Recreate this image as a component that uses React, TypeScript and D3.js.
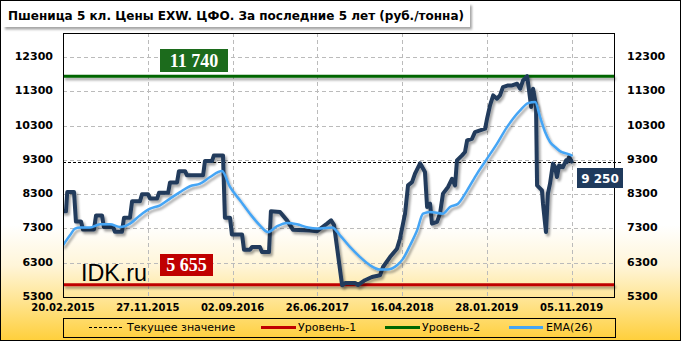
import React from "react";
import * as d3 from "d3";

const title = "Пшеница 5 кл. Цены EXW. ЦФО. За последние 5 лет (руб./тонна)";

const priceWeeks = [0, 1.4, 2.0, 5.2, 6.1, 8.5, 9.4, 14.6, 15.6, 18.4, 19.3, 23.6, 24.5, 27.8, 28.8, 31.6, 32.6, 36.3, 37.3, 40.1, 41.1, 44.4, 45.3, 49.6, 50.5, 53.8, 54.7, 57.6, 58.5, 66.1, 67.0, 70.3, 71.2, 75.5, 76.4, 78.8, 79.7, 84.5, 85.4, 88.2, 89.2, 92.9, 93.9, 97.2, 98.1, 102.4, 105.7, 108.5, 116.6, 119.9, 124.6, 126.5, 127.9, 131.7, 133.1, 137.8, 139.2, 142.5, 145.8, 149.6, 151.0, 154.3, 157.6, 159.0, 161.4, 162.8, 164.7, 166.1, 168.5, 170.8, 171.8, 173.2, 174.1, 176.5, 177.9, 179.3, 181.7, 183.6, 185.0, 185.9, 188.3, 189.7, 190.7, 193.0, 194.4, 196.8, 199.2, 200.1, 201.5, 203.0, 204.8, 206.2, 207.6, 210.0, 211.9, 214.3, 215.7, 217.1, 219.0, 219.9, 220.9, 221.8, 223.2, 223.7, 226.0, 226.5, 227.9, 228.8, 229.8, 231.2, 232.2, 233.1, 234.1, 235.9, 237.4, 237.8, 238.8, 240];
const priceValues = [7800, 7800, 8360, 8360, 7500, 7500, 7270, 7270, 7680, 7680, 7340, 7340, 7200, 7200, 7610, 7610, 8090, 8090, 8300, 8300, 8170, 8170, 8340, 8340, 8640, 8640, 8970, 8970, 8850, 8850, 9265, 9265, 9430, 9430, 7615, 7615, 7120, 7120, 6680, 6680, 6760, 6760, 6610, 6610, 7800, 7780, 7535, 7265, 7240, 7220, 7440, 7535, 7400, 5640, 5710, 5710, 5650, 5790, 5885, 5935, 6175, 6465, 6710, 7000, 7730, 8555, 8650, 8900, 9200, 8945, 7925, 8020, 7440, 7490, 7730, 8315, 8510, 8750, 8555, 9285, 9430, 9530, 9870, 9915, 10110, 10160, 10210, 10500, 10890, 11180, 11085, 11180, 11420, 11470, 11470, 11520, 11375, 11620, 11740, 11330, 10840, 11375, 10890, 8555, 8410, 8020, 7195, 8315, 8605, 9190, 9090, 8800, 9140, 9090, 9285, 9235, 9380, 9250];

const emaWeeks = [0, 3.3, 5.7, 8.0, 12.7, 17.5, 22.2, 26.9, 31.6, 36.3, 41.1, 45.8, 50.5, 55.2, 59.9, 64.7, 69.4, 75.0, 78.8, 83.5, 88.2, 92.9, 96.7, 100.9, 105.7, 110.4, 115.6, 119.9, 127.0, 130.7, 135.4, 140.2, 144.9, 149.6, 152.9, 157.6, 160.5, 163.8, 167.1, 169.9, 173.2, 179.3, 182.6, 186.4, 190.7, 195.4, 200.1, 204.8, 209.5, 215.7, 219.5, 222.8, 225.1, 227.5, 229.8, 232.2, 234.5, 237.8, 240];
const emaValues = [6810, 7100, 7295, 7325, 7325, 7420, 7420, 7340, 7440, 7680, 7875, 7975, 8170, 8360, 8530, 8605, 8800, 8975, 8510, 8120, 7730, 7390, 7195, 7360, 7460, 7420, 7325, 7295, 7325, 7100, 6760, 6465, 6225, 6100, 6100, 6225, 6420, 6810, 7245, 7730, 7780, 7730, 7925, 8020, 8410, 8900, 9335, 9775, 10255, 10745, 10955, 10985, 10550, 10110, 9820, 9675, 9555, 9480, 9430];

const yTicks = [5300, 6300, 7300, 8300, 9300, 10300, 11300, 12300];
const xTickWeeks = [0, 40, 80, 120, 160, 200, 240];
const xTickLabels = ["20.02.2015", "27.11.2015", "02.09.2016", "26.06.2017", "16.04.2018", "28.01.2019", "05.11.2019"];

const level1 = 5655;
const level2 = 11740;
const currentValue = 9250;
const level1Label = "5 655";
const level2Label = "11 740";
const currentLabel = "9 250";
const legendLabels = ["Текущее значение", "Уровень-1", "Уровень-2", "EMA(26)"];

const fmt = (v: number) => String(v);

export default function App() {
  const W = 681, H = 341;
  const L = 63, R = 614, T = 33, B = 297;
  const x = d3.scaleLinear().domain([0, 260]).range([L, R]);
  const y = d3.scaleLinear().domain([5300, 13000]).range([B, T]);

  const priceLine = d3
    .line<number>()
    .x((_, i) => x(priceWeeks[i]))
    .y((d) => y(d))
    .curve(d3.curveLinear);
  const emaLine = d3
    .line<number>()
    .x((_, i) => x(emaWeeks[i]))
    .y((d) => y(d))
    .curve(d3.curveMonotoneX);

  const font = "'DejaVu Sans', Verdana, sans-serif";
  const navy = "#213B5B";
  const blue = "#45A5F5";
  const red = "#C00000";
  const green = "#006600";

  const legendY = 327.5;

  return (
    <svg
      width={W}
      height={H}
      style={{ position: "absolute", left: 0, top: 0 }}
      xmlns="http://www.w3.org/2000/svg"
    >
      <defs>
        <linearGradient id="bg" x1="0" y1="0" x2="0" y2={H} gradientUnits="userSpaceOnUse">
          <stop offset="0" stopColor="#FFFFFF" />
          <stop offset="0.66" stopColor="#FFFFFF" />
          <stop offset="0.78" stopColor="#FFF5D8" />
          <stop offset="0.88" stopColor="#FFE593" />
          <stop offset="1" stopColor="#FFCF3A" />
        </linearGradient>
        <filter id="sh" filterUnits="userSpaceOnUse" x="0" y="0" width={W} height={H}>
          <feDropShadow dx="2" dy="2.5" stdDeviation="1.3" floodColor="#000" floodOpacity="0.35" />
        </filter>
        <clipPath id="plotclip">
          <rect x={L} y={T - 5} width={R - L} height={B - T + 5} />
        </clipPath>
      </defs>

      <rect x={0} y={0} width={W} height={H} fill="url(#bg)" />
      <rect x={0.5} y={0.5} width={W - 1} height={H - 1} fill="none" stroke="#000" />

      {/* title */}
      <rect x={3} y={3} width={467} height={24} fill="#fff" filter="url(#sh)" />
      <text
        x={8}
        y={20}
        fontFamily={font}
        fontWeight="bold"
        fontSize={12.5}
        textLength={456}
        lengthAdjust="spacingAndGlyphs"
        fill="#000"
      >
        {title}
      </text>

      {/* grid */}
      <g stroke="#BBBBBB" strokeWidth={1} strokeDasharray="4,3">
        {yTicks.slice(1).map((t) => (
          <line key={"h" + t} x1={L} x2={R} y1={Math.round(y(t)) + 0.5} y2={Math.round(y(t)) + 0.5} />
        ))}
        {xTickWeeks.slice(1).map((w) => (
          <line key={"v" + w} x1={Math.round(x(w)) + 0.5} x2={Math.round(x(w)) + 0.5} y1={T} y2={B} />
        ))}
      </g>

      {/* current value line */}
      <line
        x1={L}
        x2={623}
        y1={Math.round(y(currentValue)) + 0.5}
        y2={Math.round(y(currentValue)) + 0.5}
        stroke="#000"
        strokeWidth={1}
        strokeDasharray="3,2"
      />

      {/* levels */}
      <g filter="url(#sh)">
        <line x1={L} x2={R} y1={y(level2)} y2={y(level2)} stroke={green} strokeWidth={3} />
        <line x1={L} x2={R} y1={y(level1)} y2={y(level1)} stroke={red} strokeWidth={3} />
      </g>

      {/* series */}
      <g clipPath="url(#plotclip)">
        <path
          d={priceLine(priceValues) || ""}
          fill="none"
          stroke={navy}
          strokeWidth={4}
          strokeLinejoin="round"
          strokeLinecap="round"
          filter="url(#sh)"
        />
        <path
          d={emaLine(emaValues) || ""}
          fill="none"
          stroke={blue}
          strokeWidth={2.5}
          strokeLinejoin="round"
          strokeLinecap="round"
          filter="url(#sh)"
        />
      </g>

      {/* plot frame */}
      <rect x={L + 0.5} y={T + 0.5} width={R - L} height={B - T} fill="none" stroke="#000" strokeWidth={1} />

      {/* y axis labels */}
      <g fontFamily={font} fontWeight="bold" fontSize={11} fill="#000">
        {yTicks.map((t) => (
          <text key={"yl" + t} x={53} y={y(t) - 1} dy="0.36em" textAnchor="end">
            {fmt(t)}
          </text>
        ))}
        {yTicks.map((t) => (
          <text key={"yr" + t} x={627} y={y(t) - 1} dy="0.36em" textAnchor="start">
            {fmt(t)}
          </text>
        ))}
      </g>

      {/* x axis labels */}
      <g fontFamily={font} fontWeight="bold" fontSize={10} fill="#000">
        {xTickWeeks.map((w, i) => (
          <text key={"xl" + w} x={x(w)} y={311} textAnchor="middle">
            {xTickLabels[i]}
          </text>
        ))}
      </g>

      {/* labels */}
      <rect x={160} y={49} width={68} height={23} fill="#1C6B1C" />
      <text
        x={194}
        y={66.5}
        textAnchor="middle"
        fontFamily="'Liberation Serif', 'Times New Roman', serif"
        fontWeight="bold"
        fontSize={18}
        fill="#fff"
      >
        {level2Label}
      </text>
      <rect x={160} y={254} width={53} height={22} fill={red} />
      <text
        x={186.5}
        y={271}
        textAnchor="middle"
        fontFamily="'Liberation Serif', 'Times New Roman', serif"
        fontWeight="bold"
        fontSize={18}
        fill="#fff"
      >
        {level1Label}
      </text>
      <rect x={577} y={168} width={46} height={20} fill="#1F3A5C" />
      <text x={600} y={182.5} textAnchor="middle" fontFamily={font} fontWeight="bold" fontSize={12} fill="#fff">
        {currentLabel}
      </text>

      <text
        x={81}
        y={281}
        fontFamily="'Liberation Sans', Arial, sans-serif"
        fontSize={23}
        textLength={66}
        lengthAdjust="spacingAndGlyphs"
        fill="#000"
      >
        IDK.ru
      </text>

      {/* legend */}
      <rect x={63.5} y={318.5} width={552} height={19} fill="none" stroke="#000" strokeWidth={1} />
      <line x1={89} x2={123} y1={legendY} y2={legendY} stroke="#000" strokeDasharray="3,2" />
      <line x1={261} x2={296} y1={legendY} y2={legendY} stroke={red} strokeWidth={3} />
      <line x1={385} x2={420} y1={legendY} y2={legendY} stroke={green} strokeWidth={3} />
      <line x1={509} x2={543} y1={legendY} y2={legendY} stroke={blue} strokeWidth={3} />
      <g fontFamily={font} fontSize={11} fill="#000">
        <text x={127} y={legendY} dy="0.36em">{legendLabels[0]}</text>
        <text x={298} y={legendY} dy="0.36em">{legendLabels[1]}</text>
        <text x={422} y={legendY} dy="0.36em">{legendLabels[2]}</text>
        <text x={546} y={legendY} dy="0.36em">{legendLabels[3]}</text>
      </g>
    </svg>
  );
}
